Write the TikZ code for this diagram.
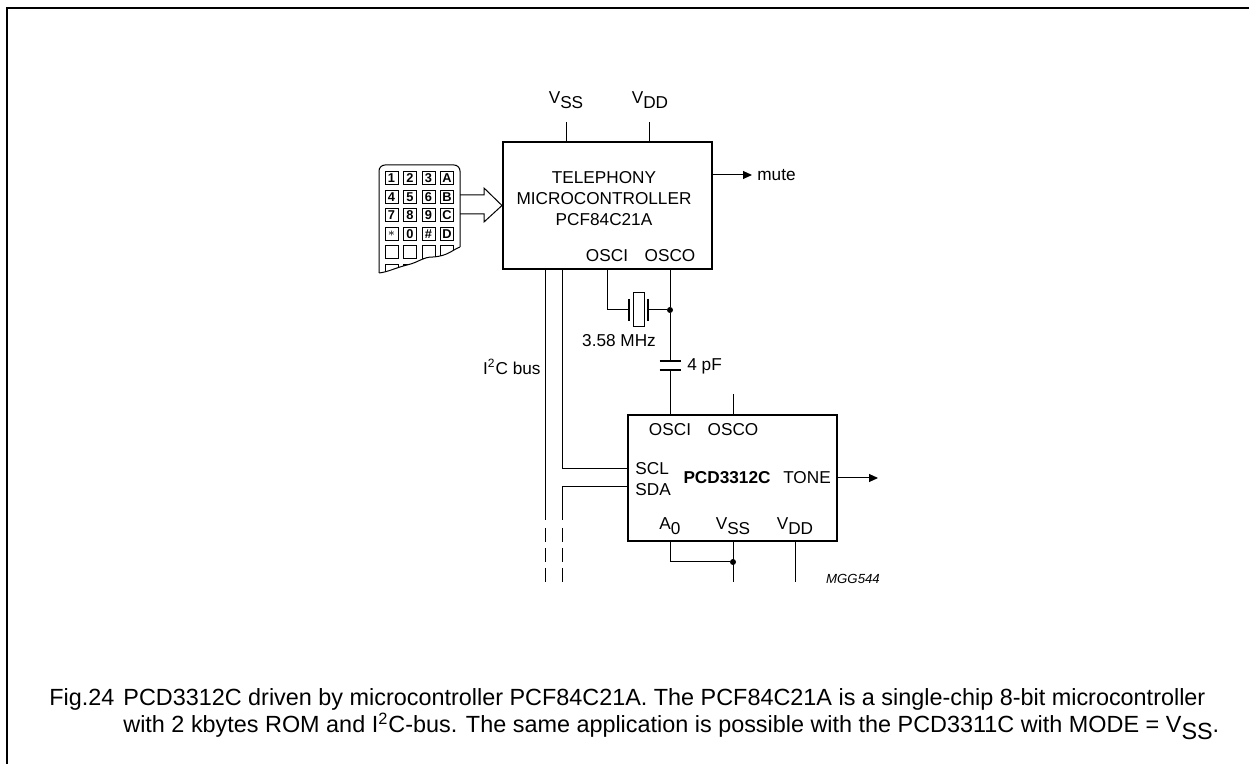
\documentclass[tikz,border=0pt]{standalone}
\usepackage{fontspec}
\setmainfont{Liberation Sans}
\usetikzlibrary{arrows.meta,positioning,calc}
\newcommand{\pinlbl}[2]{#1\raisebox{-0.55ex}{#2}}
\begin{document}
\begin{tikzpicture}[x=0.5pt,y=-0.5pt]
\tikzset{chip/.style={draw,line width=1pt,minimum width=104.5pt,minimum height=63.5pt,inner sep=0pt}}
\tikzset{wire/.style={line width=0.5pt}}
\tikzset{lbl/.style={font=\fontsize{8.6}{10.5}\selectfont,inner sep=0pt}}
\tikzset{caplbl/.style={font=\fontsize{11.7}{14}\selectfont,inner sep=0pt,anchor=base west}}
\tikzset{key/.style={draw,line width=0.5pt,minimum size=6.5pt,inner sep=0pt,font=\fontsize{6.4}{6.4}\selectfont\bfseries}}
\tikzset{dot/.style={circle,fill,inner sep=0pt,minimum size=3pt}}
\tikzset{plate/.style={line width=1.4pt}}
\tikzset{sig/.style={wire,-{Triangle[length=4.5pt,width=4pt]}}}
\useasboundingbox (0,0) rectangle (1249,764);
\draw[line width=0.8pt] (7,764) -- (7,8) -- (1249,8);
% microcontroller
\node[chip] (mcu) at (607.5,205.5) {};
\node[lbl,align=center] (mcutxt) at (604,199) {TELEPHONY\\MICROCONTROLLER\\PCF84C21A};
\node[lbl] (osci1) at (607,256) {OSCI};
\node[lbl] (osco1) at (670,256) {OSCO};
\node[lbl] (vss1) at (566,100) {\pinlbl{V}{SS}};
\node[lbl] (vdd1) at (650,100) {\pinlbl{V}{DD}};
\coordinate (vsstop) at (566,122);
\coordinate (vddtop) at (649,122);
\draw[wire] (vsstop) -- (vsstop |- mcu.north);
\draw[wire] (vddtop) -- (vddtop |- mcu.north);
\coordinate (mute) at (752,175);
\draw[sig] (mcu.east |- mute) -- (mute);
\node[lbl,anchor=west] (mutetxt) at (757,175) {mute};
% keypad
\coordinate (kp) at (460,205);
\begin{scope}
\clip (379,160) -- (465,160) -- (460,247) .. controls (452,250) and (448,256) .. (433,257) .. controls (422,257) and (420,262) .. (407,265) .. controls (395,268) and (388,272) .. (379,273) -- cycle;
\foreach \lab [count=\i from 0] in {1,2,3,A,4,5,6,B,7,8,9,C,$\ast$,0,\#,D,{},{},{},{},{},{},{},{}}{
  \pgfmathsetmacro{\kx}{391.5+18.5*mod(\i,4)}
  \pgfmathsetmacro{\ky}{178.5+18.5*int(\i/4)}
  \node[key] (key\i) at (\kx,\ky) {\lab};
}
\end{scope}
\draw[wire,rounded corners=3pt] (379,273) -- (379,165) -- (460,165) -- (460,247);
\draw[wire] (460,247) .. controls (452,250) and (448,256) .. (433,257) .. controls (422,257) and (420,262) .. (407,265) .. controls (395,268) and (388,272) .. (379,273);
\draw[wire] ($(kp)+(0,-10)$) -- ++(24,0) -- ++(0,-7) -- (mcu.west) -- ($(kp)+(24,17)$) -- ++(0,-8) -- ($(kp)+(0,9)$);
% crystal and capacitor
\coordinate (osc1) at (607,310);
\coordinate (xl) at (629,310);
\coordinate (xr) at (648,310);
\node[dot] (jx) at (670,310) {};
\node[draw,wire,minimum width=5.5pt,minimum height=17pt,inner sep=0pt] (xtal) at (638.5,310) {};
\draw[plate] ($(xl)+(0,-11)$) -- ($(xl)+(0,11)$);
\draw[plate] ($(xr)+(0,-11)$) -- ($(xr)+(0,11)$);
\draw[wire] (osc1 |- mcu.south) -- (osc1) -- (xl);
\draw[wire] (xr) -- (jx);
\node[lbl] (xtxt) at (619,341) {3.58 MHz};
\coordinate (capt) at (670,361);
\coordinate (capb) at (670,370);
\draw[plate] ($(capt)+(-10.5,0)$) -- ($(capt)+(10.5,0)$);
\draw[plate] ($(capb)+(-10.5,0)$) -- ($(capb)+(10.5,0)$);
\node[lbl,anchor=west] (captxt) at (687,366) {4 pF};
\draw[wire] (jx |- mcu.south) -- (jx) -- (capt);
% tone dialler
\node[chip,minimum height=63pt] (dtmf) at (732.5,478) {};
\draw[wire] (capb) -- (capb |- dtmf.north);
\node[lbl] (osci2) at (670,430) {OSCI};
\node[lbl] (osco2) at (733,430) {OSCO};
\node[lbl,anchor=west] (scl) at (635,469) {SCL};
\node[lbl,anchor=west] (sda) at (635,490) {SDA};
\node[lbl,font=\fontsize{8.6}{10.5}\selectfont\bfseries] (dtmftxt) at (727,478) {PCD3312C};
\node[lbl] (tone) at (807,478) {TONE};
\node[lbl] (a0) at (670,526) {\pinlbl{A}{0}};
\node[lbl] (vss2) at (733,526) {\pinlbl{V}{SS}};
\node[lbl] (vdd2) at (795,526) {\pinlbl{V}{DD}};
\coordinate (osco2top) at (733,394);
\draw[wire] (osco2top) -- (osco2top |- dtmf.north);
\coordinate (toneout) at (878,478);
\draw[sig] (dtmf.east |- toneout) -- (toneout);
\coordinate (a0pin) at (670,562);
\node[dot] (ja) at (733,562) {};
\coordinate (vssend) at (733,582);
\coordinate (vddend) at (795,582);
\draw[wire] (a0pin |- dtmf.south) -- (a0pin) -- (ja);
\draw[wire] (ja |- dtmf.south) -- (vssend);
\draw[wire] (vddend |- dtmf.south) -- (vddend);
% I2C bus
\coordinate (busa) at (545,520);
\coordinate (busb) at (562,520);
\draw[wire] (busa |- mcu.south) -- (busa);
\draw[wire] (562,269) -- (562,469) -- (dtmf.west |- scl);
\draw[wire] (dtmf.west |- 0,487) -- (562,487) -- (busb);
\draw[wire,dash pattern=on 7pt off 3pt] (545,528) -- (545,583);
\draw[wire,dash pattern=on 7pt off 3pt] (562,528) -- (562,583);
\node[lbl,anchor=east] (bustxt) at (541,367) {I\textsuperscript{2}C bus};
\node[lbl,font=\fontsize{6.6}{8}\selectfont\itshape] (code) at (853,579) {MGG544};
% caption
\node[caplbl] (fig) at (49,705) {Fig.24};
\node[caplbl] (cap1) at (123,705) {PCD3312C driven by microcontroller PCF84C21A. The PCF84C21A is a single-chip 8-bit microcontroller};
\node[caplbl] (cap2) at (123,733) {with 2 kbytes ROM and I\textsuperscript{2}C-bus. The same application is possible with the PCD3311C with MODE = \pinlbl{V}{SS}.};
\end{tikzpicture}
\end{document}
